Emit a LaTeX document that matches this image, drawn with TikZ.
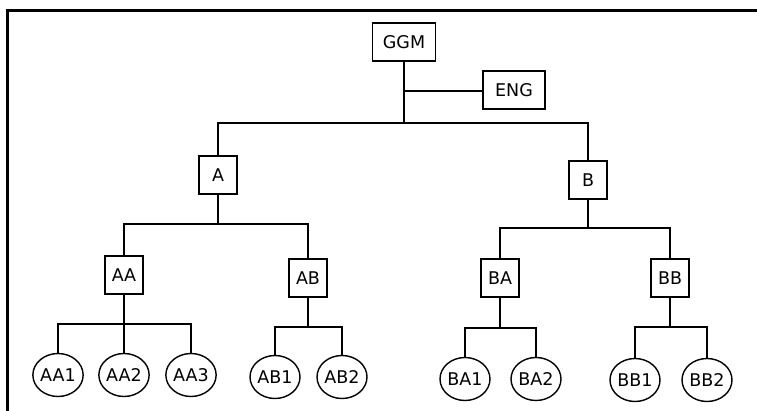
\documentclass[tikz,border=0pt]{standalone}
\usepackage{fontspec}
\setmainfont{DejaVu Sans}
\usepackage{tikz}
\usetikzlibrary{positioning,calc,shapes,shapes.geometric}
\tikzset{orgpic/.style={x=1pt, y=-1pt, line width=1.4pt, every node/.style={font=\fontsize{17.5}{20}\selectfont}}}
\tikzset{dbox/.style={draw, rectangle, inner xsep=6pt, inner ysep=0pt, minimum width=38pt, minimum height=38pt, line width=1.4pt}}
\tikzset{dleaf/.style={draw, ellipse, inner sep=0pt, minimum width=50pt, minimum height=43pt, line width=1.4pt}}
\tikzset{conn/.style={draw, line width=1.4pt}}
\tikzset{frameline/.style={draw, line width=3pt}}

\begin{document}
\begin{tikzpicture}[orgpic]
			\useasboundingbox (0,0) rectangle (757,411);
			\draw[frameline] (7,411) |- (757,11);
			% top of the chart
			\node[dbox, minimum width=63pt] (GGM) at (404,42) {GGM};
			\node[dbox, minimum width=62pt] (ENG) at (514,90) {ENG};
			\coordinate (jEng) at (404,91);
			\coordinate (jTop) at (404,123);
			%
			\node[dbox] (A) at (218,175) {A};
			\node[dbox] (B) at (588,180) {B};
			\coordinate (jA) at (218,224);
			\coordinate (jB) at (588,228);
			%
			\node[dbox] (AA) at (124,275) {AA};
			\node[dbox] (AB) at (308,278) {AB};
			\node[dbox] (BA) at (500,278) {BA};
			\node[dbox] (BB) at (670,278) {BB};
			\coordinate (jAA) at (124,324);
			\coordinate (jAB) at (308,327);
			\coordinate (jBA) at (500,328);
			\coordinate (jBB) at (670,327);
			% leaves
			\node[dleaf] (AA1) at (58,375) {AA1};
			\node[dleaf] (AA2) at (124,375) {AA2};
			\node[dleaf] (AA3) at (191,375) {AA3};
			\node[dleaf] (AB1) at (275,377) {AB1};
			\node[dleaf] (AB2) at (342,377) {AB2};
			\node[dleaf] (BA1) at (465,379) {BA1};
			\node[dleaf] (BA2) at (536,379) {BA2};
			\node[dleaf] (BB1) at (635,380) {BB1};
			\node[dleaf] (BB2) at (707,380) {BB2};
			%
			\draw[conn] (GGM) -- (jTop);
			\draw[conn] (jEng) -- (jEng -| ENG.west);
			\draw[conn] (jTop) -| (A);
			\draw[conn] (jTop) -| (B);
			\draw[conn] (A) -- (jA);
			\draw[conn] (jA) -| (AA);
			\draw[conn] (jA) -| (AB);
			\draw[conn] (B) -- (jB);
			\draw[conn] (jB) -| (BA);
			\draw[conn] (jB) -| (BB);
			%
			\draw[conn] (AA) -- (jAA);
			\foreach \leaf in {AA1,AA2,AA3}
				\draw[conn] (jAA) -| (\leaf);
			\draw[conn] (AB) -- (jAB);
			\foreach \leaf in {AB1,AB2}
				\draw[conn] (jAB) -| (\leaf);
			\draw[conn] (BA) -- (jBA);
			\foreach \leaf in {BA1,BA2}
				\draw[conn] (jBA) -| (\leaf);
			\draw[conn] (BB) -- (jBB);
			\foreach \leaf in {BB1,BB2}
				\draw[conn] (jBB) -| (\leaf);
		\end{tikzpicture}
\end{document}
